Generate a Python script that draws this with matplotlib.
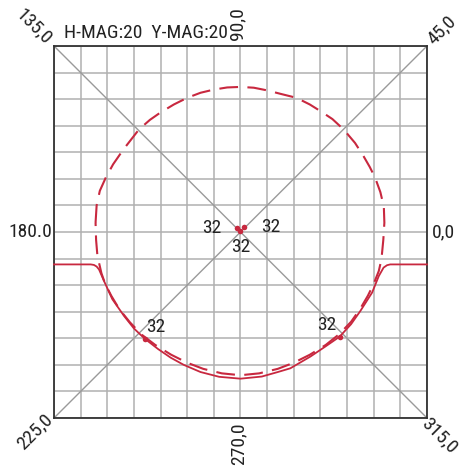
import matplotlib
matplotlib.use("Agg")
import matplotlib.pyplot as plt
from matplotlib import font_manager

# Prefer a narrow face when one is present
_wanted = ["Roboto Condensed", "Noto Sans Condensed", "Liberation Sans Narrow",
           "Open Sans Condensed", "Arial Narrow"]
_have = {f.name for f in font_manager.fontManager.ttflist}
_narrow = [n for n in _wanted if n in _have]
FONT = _narrow[:1] + ["Liberation Sans", "DejaVu Sans"]
RED = "#c8283f"

title_text = "H-MAG:20  Y-MAG:20"

# Angle labels around the frame
angle_labels = ["0,0", "45,0", "90,0", "135,0", "180.0", "225,0", "270,0", "315,0"]

# Dashed contour (closed loop), in grid units
dashed_x = [-5.44, -5.40, -5.28, -5.06, -4.78, -4.40, -3.81, -3.40, -3.00, -2.50,
            -2.00, -1.50, -1.00, -0.50, 0.00, 0.50, 1.00, 1.50, 2.10, 2.60,
            3.00, 3.45, 3.87, 4.30, 4.62, 4.85, 5.05, 5.25, 5.38, 5.40,
            5.36, 5.29, 5.19, 5.00, 4.78, 4.50, 4.15, 3.70, 3.20, 2.60,
            2.00, 1.40, 0.70, 0.00, -0.70, -1.40, -2.00, -2.60, -3.20, -3.70,
            -4.15, -4.55, -4.85, -5.08, -5.22, -5.37, -5.42, -5.44]
dashed_y = [0.35, 1.00, 1.55, 2.04, 2.55, 3.10, 3.86, 4.22, 4.50, 4.80,
            5.05, 5.24, 5.36, 5.44, 5.46, 5.43, 5.33, 5.20, 5.05, 4.80,
            4.55, 4.25, 3.86, 3.35, 2.85, 2.45, 2.05, 1.50, 0.95, 0.35,
            -0.30, -1.03, -1.47, -1.95, -2.40, -2.88, -3.38, -3.85, -4.25, -4.62,
            -4.92, -5.15, -5.32, -5.39, -5.32, -5.15, -4.92, -4.62, -4.25, -3.87,
            -3.40, -2.90, -2.40, -1.95, -1.55, -0.90, -0.30, 0.35]

# Solid contour, in grid units
solid_x = [-7.00, -5.62, -5.50, -5.40, -5.31, -5.12, -4.81, -4.37, -4.00, -3.60,
           -3.10, -2.62, -2.13, -1.50, -0.80, 0.00, 0.80, 1.40, 1.87, 2.62,
           3.20, 3.72, 4.15, 4.50, 4.94, 5.19, 5.37, 5.50, 5.62, 7.00]
solid_y = [-1.22, -1.22, -1.24, -1.30, -1.41, -1.85, -2.53, -3.16, -3.63, -4.01,
           -4.40, -4.73, -5.00, -5.27, -5.45, -5.52, -5.44, -5.27, -5.13, -4.69,
           -4.30, -3.94, -3.47, -2.97, -2.28, -1.66, -1.34, -1.25, -1.22, -1.22]

# Marked points and their values
point_x = [-3.60, 3.72, -0.15, 0.15, 0.00]
point_y = [-4.01, -3.94, 0.16, 0.18, 0.03]
point_val = [32, 32, 32, 32, 32]
# label placement: (offset in points, ha, va)
point_label_pos = [((1, 2), "left", "bottom"),
                   ((-2, 2), "right", "bottom"),
                   ((-11, 0), "right", "center"),
                   ((12, 0), "left", "center"),
                   ((0, -5), "center", "top")]

FS = 13 if not _narrow else 14

W, H = 460, 466
fig = plt.figure(figsize=(W / 100, H / 100), dpi=100)
ax = fig.add_axes([54 / W, 1 - 418 / H, 373 / W, 372 / H])
ax.set_xlim(-7, 7)
ax.set_ylim(-7, 7)

ticks = list(range(-7, 8))
ax.set_xticks(ticks)
ax.set_yticks(ticks)
ax.tick_params(length=0, labelbottom=False, labelleft=False)
ax.grid(True, color="#b0b0b0", linewidth=1.1)
ax.set_axisbelow(True)
for s in ax.spines.values():
    s.set_color("#333333")
    s.set_linewidth(1.3)

# corner-to-corner diagonals
ax.plot([-7, 7], [-7, 7], color="#9a9a9a", lw=1.0, zorder=1)
ax.plot([-7, 7], [7, -7], color="#9a9a9a", lw=1.0, zorder=1)

ax.plot(dashed_x, dashed_y, color=RED, lw=1.5, dashes=(9, 4.5), zorder=3)
ax.plot(solid_x, solid_y, color=RED, lw=1.3, zorder=3, clip_on=False)

ax.scatter(point_x, point_y, s=16, color=RED, zorder=4, linewidths=0)
for x, y, v, (off, ha, va) in zip(point_x, point_y, point_val, point_label_pos):
    ax.annotate(str(v), (x, y), xytext=off, textcoords="offset points",
                ha=ha, va=va, fontsize=FS, family=FONT, color="#222222", zorder=5)

# Angle labels, placed in pixel positions around the frame
def ftext(px, py, s, rot, ha="center", va="center"):
    fig.text(px / W, 1 - py / H, s, rotation=rot, rotation_mode="anchor",
             ha=ha, va=va, fontsize=FS, family=FONT, color="#222222")

ftext(432, 232, angle_labels[0], 0, ha="left")
ftext(442, 30, angle_labels[1], 45)
ftext(237, 24, angle_labels[2], 90)
ftext(34, 27, angle_labels[3], -45)
ftext(52, 232, angle_labels[4], 0, ha="right")
ftext(35, 432, angle_labels[5], 45)
ftext(238, 444, angle_labels[6], 90)
ftext(440, 436, angle_labels[7], -45)

fig.text(64 / W, 1 - 38.5 / H, title_text, ha="left", va="baseline",
         fontsize=FS, family=FONT, color="#222222")

fig.savefig("out.png", dpi=100)
